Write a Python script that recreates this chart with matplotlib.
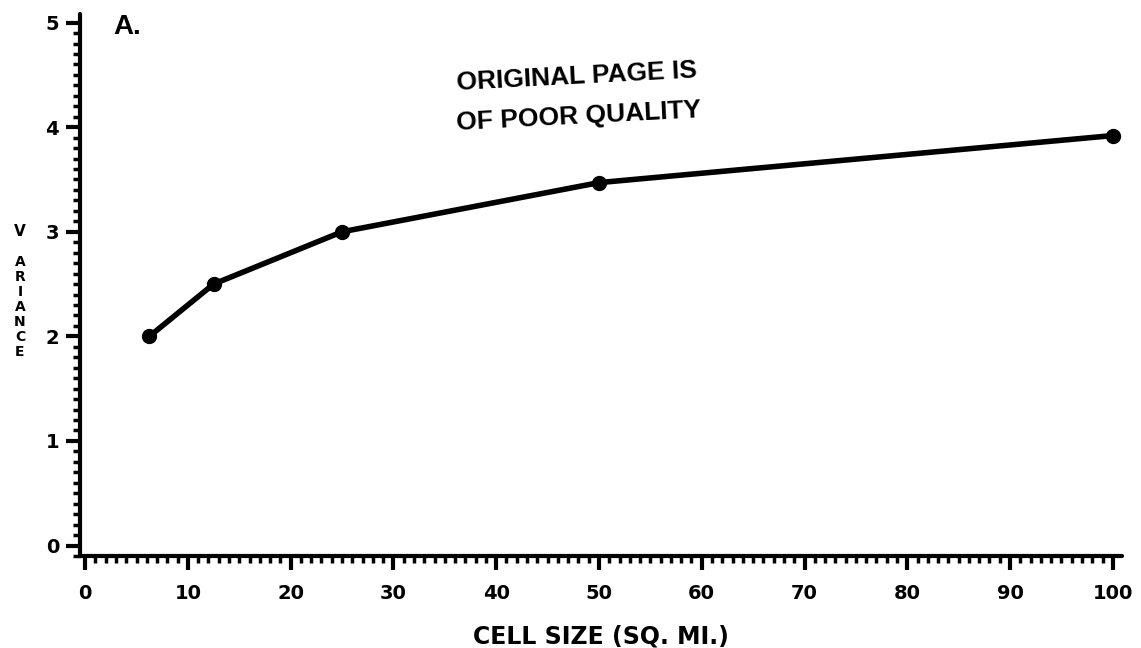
import numpy as np
import matplotlib
matplotlib.use("Agg")
import matplotlib.pyplot as plt
from matplotlib.ticker import MultipleLocator

# cell size (sq. mi.) vs variance
cell_size = [6.25, 12.5, 25, 50, 100]
variance = [2.0, 2.5, 3.0, 3.47, 3.92]

x_ticks = [0, 10, 20, 30, 40, 50, 60, 70, 80, 90, 100]
y_ticks = [0, 1, 2, 3, 4, 5]

fig = plt.figure(figsize=(11.41, 6.48), dpi=100)
ax = fig.add_axes([0.0701, 0.142, 0.9133, 0.836])

ax.plot(cell_size, variance, color="black", linewidth=4, marker="o",
        markersize=10, solid_capstyle="round", solid_joinstyle="round")

ax.set_xlim(-0.5, 100.9)
ax.set_ylim(-0.1, 5.08)

# axes look
for side in ["top", "right"]:
    ax.spines[side].set_visible(False)
for side in ["left", "bottom"]:
    ax.spines[side].set_linewidth(3)
    ax.spines[side].set_capstyle("round")

ax.set_xticks(x_ticks)
ax.set_yticks(y_ticks)
ax.xaxis.set_minor_locator(MultipleLocator(1))
ax.yaxis.set_minor_locator(MultipleLocator(0.1))
ax.tick_params(which="major", direction="out", length=10, width=3, pad=10,
               labelsize=14)
ax.tick_params(which="minor", direction="out", length=5, width=2.5)
for lab in ax.get_xticklabels() + ax.get_yticklabels():
    lab.set_fontweight("heavy")
    lab.set_family("DejaVu Sans")
ax.tick_params(axis="y", pad=5)

ax.set_xlabel("CELL SIZE (SQ. MI.)", fontsize=17, fontweight="heavy",
              labelpad=16)

# stacked y label
fig.text(0.0175, 1 - 232 / 648, "V", fontsize=11, fontweight="heavy",
         ha="center", va="center")
fig.text(0.0175, 1 - 307 / 648, "A\nR\nI\nA\nN\nC\nE", fontsize=10,
         fontweight="heavy", ha="center", va="center", linespacing=1.1)

ax.text(4.1, 4.96, "A.", fontsize=20, fontweight="bold",
        family="Liberation Sans", ha="center", va="center")

fig.text(457 / 1141, 1 - 90 / 648, "ORIGINAL PAGE IS", fontsize=19,
         fontweight="bold", family="Liberation Sans", ha="left",
         va="baseline", rotation=3, rotation_mode="anchor")
fig.text(457 / 1141, 1 - 130 / 648, "OF POOR QUALITY", fontsize=19,
         fontweight="bold", family="Liberation Sans", ha="left",
         va="baseline", rotation=3, rotation_mode="anchor")

fig.savefig("out.png", dpi=100, facecolor="white")
